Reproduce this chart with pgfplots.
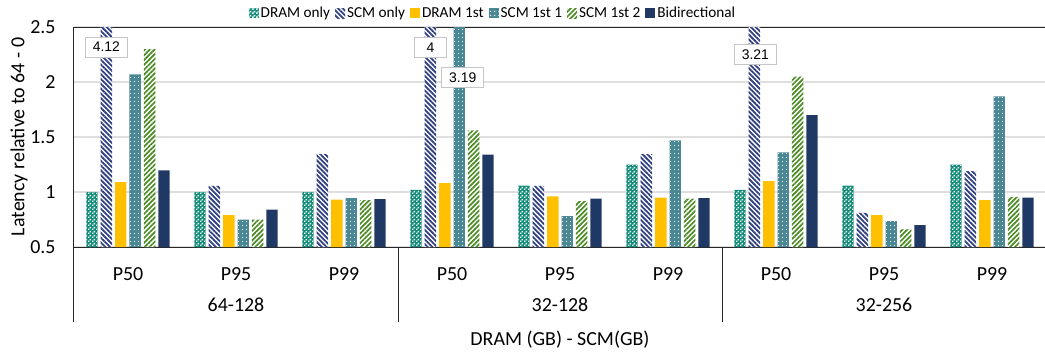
\documentclass[border=0pt]{standalone}
\usepackage{pgfplots}
\usepackage{pgfplotstable}
\pgfplotsset{compat=1.18}
\usepackage{fontspec}
\setmainfont{Carlito}
\newfontfamily\arialfont{Liberation Sans}
\usetikzlibrary{patterns,patterns.meta}

\definecolor{cteal}{HTML}{0E8A78}
\definecolor{cnavy}{HTML}{2F3F7F}
\definecolor{cgold}{HTML}{FFC000}
\definecolor{csteel}{HTML}{4A8896}
\definecolor{cgreen}{HTML}{4B8B23}
\definecolor{cbidir}{HTML}{1F3864}

\pgfdeclarepatternformonly{checker}{\pgfpointorigin}{\pgfqpoint{4bp}{4bp}}{\pgfqpoint{4bp}{4bp}}{%
 \pgfpathrectangle{\pgfpointorigin}{\pgfqpoint{1.8bp}{1.8bp}}%
 \pgfpathrectangle{\pgfqpoint{2bp}{2bp}}{\pgfqpoint{1.8bp}{1.8bp}}%
 \pgfusepath{fill}}
\pgfdeclarepatternformonly{dotgrid}{\pgfpointorigin}{\pgfqpoint{3.6bp}{3.6bp}}{\pgfqpoint{3.6bp}{3.6bp}}{%
 \pgfpathrectangle{\pgfpointorigin}{\pgfqpoint{1.1bp}{1.1bp}}\pgfusepath{fill}}

\pgfplotstableread{
x dramonly scmonly dramfirst scmone scmtwo bidir
0 1.00  4.12  1.09  2.07  2.30  1.197
1 1.00  1.055 0.79  0.75  0.75  0.84
2 1.00  1.345 0.93  0.945 0.927 0.936
3 1.02  4.00  1.08  3.19  1.56  1.34
4 1.057 1.055 0.96  0.78  0.918 0.94
5 1.25  1.345 0.95  1.47  0.94  0.945
6 1.02  3.21  1.10  1.36  2.05  1.70
7 1.057 0.81  0.79  0.736 0.66  0.70
8 1.25  1.19  0.927 1.87  0.955 0.95
}\data

\begin{document}
\begin{tikzpicture}
\path[use as bounding box] (-74bp,-111bp) rectangle (971bp,247bp);
\begin{axis}[
  at={(0,0)}, anchor=south west,
  scale only axis, width=972bp, height=220bp,
  font=\fontsize{20}{24}\selectfont,
  ybar=3bp, bar width=11.4bp,
  xmin=-0.5, xmax=8.5, ymin=0.5, ymax=2.5,
  xtick={0,...,8},
  xticklabels={P50,P95,P99,P50,P95,P99,P50,P95,P99},
  ytick={0.5,1,1.5,2,2.5},
  yticklabels={0.5,1,1.5,2,2.5},
  tick style={draw=none},
  xticklabel style={anchor=center, yshift=-23bp},
  yticklabel style={anchor=east, xshift=-15bp},
  ymajorgrids, grid style={gray!25, line width=1.2bp},
  axis line style={black!85, line width=1bp},
  clip mode=individual,
  ylabel={Latency relative to 64 - 0},
  ylabel style={at={(axis description cs:-0.0566,0.5)}, anchor=center},
  xlabel={DRAM (GB) - SCM(GB)},
  xlabel style={at={(axis description cs:0.5,-0.4227)}, anchor=center},
  legend columns=6,
  legend style={at={(axis description cs:0.431,1.0636)}, anchor=center,
    draw=none, fill=none, font=\fontsize{15.3}{18}\selectfont,
    nodes={inner xsep=2bp},
    /tikz/every even column/.append style={column sep=3bp}},
  legend image code/.code={\draw[#1,draw=none] (0bp,-5bp) rectangle (10bp,5bp);},
]
\addplot[draw=none, fill=cteal, postaction={pattern=checker, pattern color=white}] table[x=x,y=dramonly]{\data};
\addlegendentry{DRAM only}
\addplot[draw=none, fill=white, postaction={pattern={Lines[angle=-45,distance=3.4bp,line width=1.8bp]}, pattern color=cnavy}] table[x=x,y=scmonly]{\data};
\addlegendentry{SCM only}
\addplot[draw=none, fill=cgold] table[x=x,y=dramfirst]{\data};
\addlegendentry{DRAM 1st}
\addplot[draw=none, fill=csteel, postaction={pattern=dotgrid, pattern color=white}] table[x=x,y=scmone]{\data};
\addlegendentry{SCM 1st 1}
\addplot[draw=none, fill=white, postaction={pattern={Lines[angle=45,distance=3.4bp,line width=1.7bp]}, pattern color=cgreen}] table[x=x,y=scmtwo]{\data};
\addlegendentry{SCM 1st 2}
\addplot[draw=none, fill=cbidir] table[x=x,y=bidir]{\data};
\addlegendentry{Bidirectional}

\draw[black!85, line width=1bp] (axis cs:-0.5,0.5) -- ([yshift=-75bp]axis cs:-0.5,0.5);
\draw[black!85, line width=1bp] (axis cs:2.5,0.5) -- ([yshift=-75bp]axis cs:2.5,0.5);
\draw[black!85, line width=1bp] (axis cs:5.5,0.5) -- ([yshift=-75bp]axis cs:5.5,0.5);
\node at ([yshift=-58bp]axis cs:1,0.5) {64-128};
\node at ([yshift=-58bp]axis cs:4,0.5) {32-128};
\node at ([yshift=-58bp]axis cs:7,0.5) {32-256};

\tikzset{lbl/.style={draw=gray!45, fill=white, line width=0.8bp, minimum width=42bp, minimum height=20bp, inner sep=1bp, font=\arialfont\fontsize{14}{16}\selectfont}}
\node[lbl] at ([xshift=-21.6bp]axis cs:0,2.318) {4.12};
\node[lbl, minimum width=32bp] at ([xshift=-21.6bp]axis cs:3,2.314) {4};
\node[lbl] at ([xshift=10.7bp]axis cs:3,2.041) {3.19};
\node[lbl] at ([xshift=-20.6bp]axis cs:6,2.25) {3.21};
\end{axis}
\end{tikzpicture}
\end{document}
